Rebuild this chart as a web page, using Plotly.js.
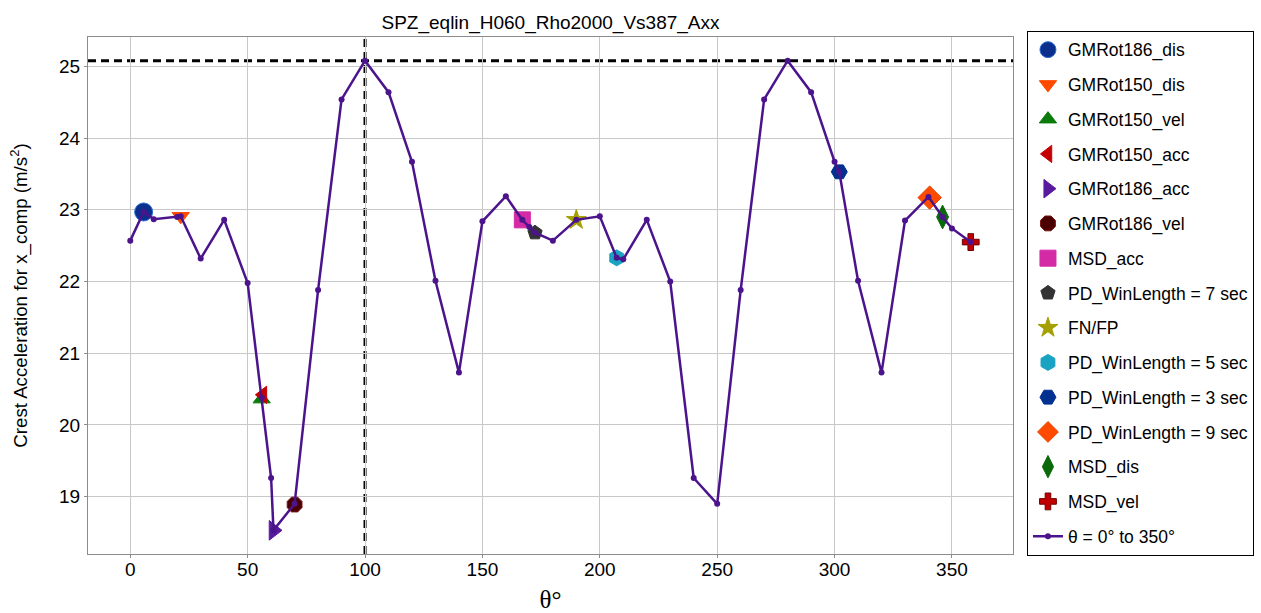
<!DOCTYPE html>
<html>
<head>
<meta charset="utf-8">
<script src="https://cdn.plot.ly/plotly-3.0.1.min.js"></script>
<style>html,body{margin:0;padding:0;background:#fff;}#chart{width:1261px;height:613px;}</style>
</head>
<body>
<div id="chart"></div>
<script>
// Main curve: crest acceleration vs rotation angle (includes the marked angles)
const lineTheta = [0, 5.7, 10, 20, 21.5, 30, 40, 50, 56, 60, 61, 70, 80, 90, 100, 110, 120, 130, 140, 150, 160, 167, 170, 172.4, 180, 190, 200, 207.2, 210, 220, 230, 240, 250, 260, 270, 280, 290, 300, 302, 310, 320, 330, 340, 346, 350, 358];
const lineAcc = [22.57, 22.97, 22.87, 22.90, 22.91, 22.32, 22.86, 21.98, 20.38, 19.26, 18.53, 18.90, 21.88, 24.54, 25.08, 24.64, 23.67, 22.01, 20.73, 22.84, 23.19, 22.86, 22.76, 22.68, 22.57, 22.86, 22.91, 22.33, 22.31, 22.86, 22.00, 19.26, 18.90, 21.88, 24.54, 25.08, 24.64, 23.67, 23.53, 22.01, 20.73, 22.85, 23.18, 22.90, 22.74, 22.55];
const lineName = "θ = 0° to 350°";

// Marked methods
const markerNames = ["GMRot186_dis", "GMRot150_dis", "GMRot150_vel", "GMRot150_acc", "GMRot186_acc", "GMRot186_vel", "MSD_acc", "PD_WinLength = 7 sec", "FN/FP", "PD_WinLength = 5 sec", "PD_WinLength = 3 sec", "PD_WinLength = 9 sec", "MSD_dis", "MSD_vel"];
const markerTheta = [5.7, 21.5, 56, 56.5, 61, 70, 167, 172.4, 190, 207.2, 302, 340.5, 346, 358];
const markerAcc = [22.97, 22.91, 20.36, 20.42, 18.53, 18.89, 22.86, 22.68, 22.86, 22.33, 23.53, 23.17, 22.90, 22.55];

// Reference (maximum) lines
const peakTheta = 100;
const peakAcc = 25.08;

// Tick labels
const xTicks = [0, 50, 100, 150, 200, 250, 300, 350];
const yTicks = [19, 20, 21, 22, 23, 24, 25];

// Styles (kept separate from data)
const markerStyles = [
  {symbol: "circle", color: "#0a2f8c", size: 18, line: "#2a6ad0"},
  {symbol: "triangle-down", color: "#ff4a00", size: 15, line: "#ff4a00"},
  {symbol: "triangle-up", color: "#0a7a0a", size: 15, line: "#0a7a0a"},
  {symbol: "triangle-left", color: "#c40000", size: 15, line: "#c40000"},
  {symbol: "triangle-right", color: "#5a1a9e", size: 17, line: "#5a1a9e"},
  {symbol: "octagon", color: "#4a0000", size: 16, line: "#7a1010"},
  {symbol: "square", color: "#d42aa6", size: 16, line: "#d42aa6"},
  {symbol: "pentagon", color: "#333333", size: 15, line: "#333333"},
  {symbol: "star", color: "#a3a000", size: 15, line: "#a3a000"},
  {symbol: "hexagon", color: "#19a3c2", size: 16, line: "#19a3c2"},
  {symbol: "hexagon2", color: "#003090", size: 16, line: "#003090"},
  {symbol: "diamond", color: "#ff4a00", size: 18, line: "#e84000"},
  {symbol: "diamond-tall", color: "#0a6a0a", size: 17, line: "#0a6a0a"},
  {symbol: "cross", color: "#c00000", size: 14, line: "#700000"}
];

const traces = markerNames.map((name, i) => ({
  type: "scatter",
  mode: "markers",
  name: name,
  legendgroup: "g" + i,
  x: [markerTheta[i]],
  y: [markerAcc[i]],
  marker: {
    symbol: markerStyles[i].symbol,
    color: markerStyles[i].color,
    size: markerStyles[i].size,
    line: {color: markerStyles[i].line, width: 1}
  },
  hoverinfo: "x+y+name"
}));

traces.push({
  type: "scatter",
  mode: "lines+markers",
  name: lineName,
  legendgroup: "line",
  x: lineTheta,
  y: lineAcc,
  line: {color: "#4b148c", width: 2.5},
  marker: {color: "#4b148c", size: 6}
});

const layout = {
  width: 1261,
  height: 613,
  margin: {l: 88, r: 248, t: 37, b: 59, autoexpand: false},
  paper_bgcolor: "#ffffff",
  plot_bgcolor: "#ffffff",
  font: {family: "Liberation Sans, Arial, sans-serif", color: "#000000", size: 19},
  title: {
    text: "SPZ_eqlin_H060_Rho2000_Vs387_Axx",
    x: 0.5, xref: "paper", xanchor: "center",
    y: 1 - 22 / 613, yref: "container", yanchor: "middle",
    font: {size: 19, family: "Liberation Sans, Arial, sans-serif", color: "#000000"}
  },
  xaxis: {
    range: [-18, 376],
    tickvals: xTicks,
    ticktext: xTicks.map(String),
    showgrid: true,
    gridcolor: "#c8c8c8",
    gridwidth: 1,
    showline: true,
    linecolor: "#8c8c8c",
    linewidth: 1,
    mirror: true,
    ticks: "outside",
    ticklen: 3,
    tickcolor: "#8c8c8c",
    ticklabelstandoff: -5,
    zeroline: false,
    automargin: false,
    tickfont: {size: 19},
    title: {text: "θ°", font: {family: "Liberation Serif, Times New Roman, serif", size: 25}, standoff: 14}
  },
  yaxis: {
    range: [18.2, 25.41],
    tickvals: yTicks,
    ticktext: yTicks.map(String),
    showgrid: true,
    gridcolor: "#c8c8c8",
    gridwidth: 1,
    showline: true,
    linecolor: "#8c8c8c",
    linewidth: 1,
    mirror: true,
    ticks: "outside",
    ticklen: 3,
    tickcolor: "#8c8c8c",
    zeroline: false,
    automargin: false,
    tickfont: {size: 19},
    title: {text: "Crest Acceleration for x_comp (m/s<sup>2</sup>)", font: {size: 18.7}, standoff: 26}
  },
  legend: {
    x: 1.0151, xanchor: "left",
    y: 1.012, yanchor: "top",
    bordercolor: "#000000",
    borderwidth: 1,
    bgcolor: "#ffffff",
    font: {size: 17.5, family: "Liberation Sans, Arial, sans-serif"},
    traceorder: "grouped",
    tracegroupgap: 9,
    itemsizing: "trace",
    maxheight: 1
  },
  shapes: [
    {type: "line", xref: "x", yref: "paper", x0: peakTheta, x1: peakTheta, y0: 0, y1: 1,
     line: {color: "#000000", width: 3, dash: "8px,5px"}, layer: "between"},
    {type: "line", xref: "paper", yref: "y", x0: 0, x1: 1, y0: peakAcc, y1: peakAcc,
     line: {color: "#000000", width: 3, dash: "8px,5px"}, layer: "between"}
  ],
  showlegend: true
};

Plotly.newPlot("chart", traces, layout, {displayModeBar: false, responsive: false});
</script>
</body>
</html>
